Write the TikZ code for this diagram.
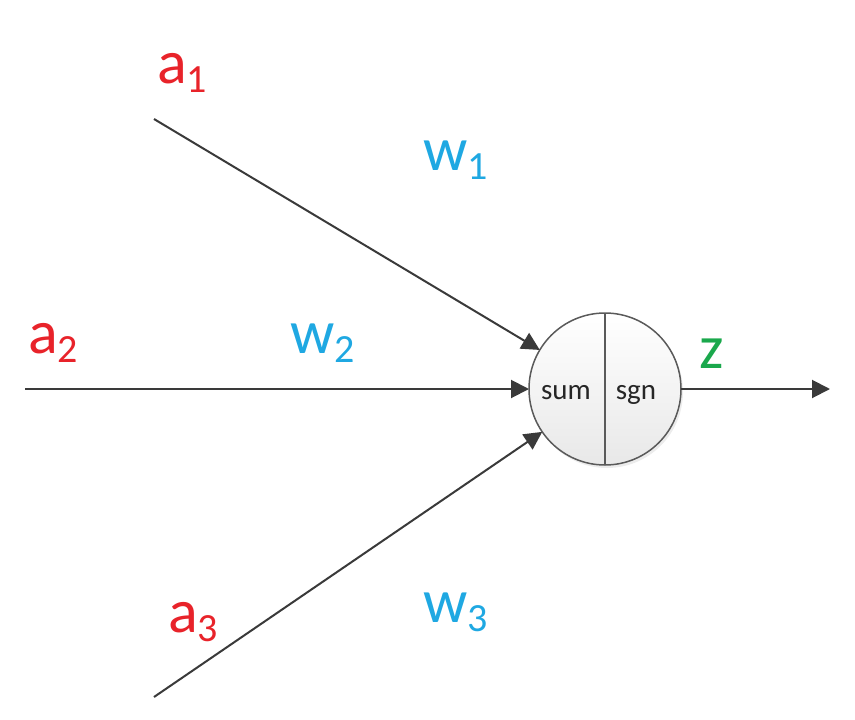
\documentclass[tikz,border=0pt]{standalone}
\usepackage{fontspec}
\setmainfont{Carlito}
\usetikzlibrary{arrows.meta,shadows}
\definecolor{inred}{HTML}{E8232A}
\definecolor{wblue}{HTML}{1FA8E2}
\definecolor{zgreen}{HTML}{1AA84C}
\definecolor{lineg}{HTML}{3A3A3A}
\definecolor{circg}{HTML}{5A5A5A}
\newcommand\sublab[2]{#1\raisebox{-0.16em}{\fontsize{40}{40}\selectfont #2}}
\tikzset{
  lbl/.style={anchor=base west,inner sep=0pt,outer sep=0pt,font=\fontsize{62}{62}\selectfont},
  inlbl/.style={lbl,text=inred},
  wlbl/.style={lbl,text=wblue},
  zlbl/.style={lbl,text=zgreen},
  conn/.style={draw=lineg,line width=2pt,-{Triangle[length=18pt,width=18pt]}},
  neuron/.style={circle,draw=circg,line width=1.5pt,minimum size=152pt,inner sep=0pt,outer sep=0pt,
     top color=white,bottom color=black!9,drop shadow={shadow xshift=2pt,shadow yshift=-3pt,opacity=0.15}},
  inner/.style={inner sep=0pt,font=\fontsize{29}{29}\selectfont,text=black!85}
}
\begin{document}
\begin{tikzpicture}[x=1pt,y=-1pt]
\useasboundingbox (0,0) rectangle (855,720);
\node[neuron] (c) at (605,389) {};
\draw[circg,line width=1.5pt] (c.north) -- (c.south);
\node[inner,anchor=base] (sum) at (566,399) {sum};
\node[inner,anchor=base] (sgn) at (636,399) {sgn};
\coordinate (s1) at (154,119);
\coordinate (s2) at (25,389);
\coordinate (s3) at (154,697);
\coordinate (out) at (830,389);
\draw[conn] (s1) -- (c);
\draw[conn] (s2) -- (c);
\draw[conn] (s3) -- (c);
\draw[conn] (c) -- (out);
\node[inlbl] (a1) at (157,83) {\sublab{a}{1}};
\node[inlbl] (a2) at (28,353) {\sublab{a}{2}};
\node[inlbl] (a3) at (168,632) {\sublab{a}{3}};
\node[wlbl] (w1) at (423,170) {\sublab{w}{1}};
\node[wlbl] (w2) at (290,353) {\sublab{w}{2}};
\node[wlbl] (w3) at (423,622) {\sublab{w}{3}};
\node[zlbl] (z) at (699,368) {z};
\end{tikzpicture}
\end{document}
